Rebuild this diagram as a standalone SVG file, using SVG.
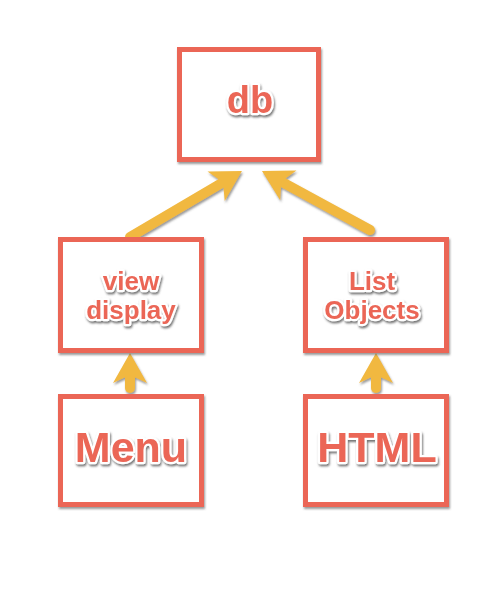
<svg xmlns="http://www.w3.org/2000/svg" width="500" height="602" viewBox="0 0 500 602">
<style>
.box{fill:#fff;stroke:#EB6657;stroke-width:5;filter:url(#sh)}
.lbl{font-family:"Liberation Sans",Arial,sans-serif;font-weight:bold;fill:#EB6657;stroke:#fff;stroke-width:4.5;stroke-linejoin:round;paint-order:stroke;text-anchor:middle;filter:url(#tsh)}
.arr{fill:none;stroke:#F1B840;stroke-width:10;stroke-linecap:round;marker-end:url(#head)}
</style>
<defs>
<filter id="sh" x="-10%" y="-10%" width="130%" height="130%">
<feDropShadow dx="1" dy="2" stdDeviation="1" flood-color="#555" flood-opacity="0.6"/>
</filter>
<filter id="tsh" x="-10%" y="-20%" width="130%" height="150%">
<feDropShadow dx="1" dy="2" stdDeviation="1.2" flood-color="#444" flood-opacity="0.75"/>
</filter>
<marker id="head" markerUnits="userSpaceOnUse" viewBox="0 -17 32 34" refX="8" refY="0" markerWidth="32" markerHeight="34" orient="auto" overflow="visible">
<path d="M30,0 L0,-17 L8,0 L0,17 Z" fill="#F1B840"/>
</marker>
</defs>
<g id="connectors" filter="url(#sh)">
<path class="arr" d="M130,237 L223,182.2"/>
<path class="arr" d="M370,230 L281.3,181.6"/>
<path class="arr" d="M130,388 L130,375"/>
<path class="arr" d="M376,388 L376,375"/>
</g>
<g id="db">
<rect class="box" x="179.5" y="49.5" width="139" height="110"/>
<text class="lbl" x="250" y="113" font-size="38">db</text>
</g>
<g id="view-display">
<rect class="box" x="60.5" y="239.5" width="141" height="111"/>
<text class="lbl" x="131" y="290" font-size="26">view</text>
<text class="lbl" x="131" y="319" font-size="26">display</text>
</g>
<g id="list-objects">
<rect class="box" x="305.5" y="239.5" width="141" height="111"/>
<text class="lbl" x="372" y="290" font-size="26">List</text>
<text class="lbl" x="372" y="319" font-size="26">Objects</text>
</g>
<g id="menu">
<rect class="box" x="60.5" y="396.5" width="141" height="108"/>
<text class="lbl" x="131" y="462" font-size="43">Menu</text>
</g>
<g id="html">
<rect class="box" x="305.5" y="396.5" width="141" height="108"/>
<text class="lbl" x="377" y="462" font-size="43">HTML</text>
</g>
</svg>
